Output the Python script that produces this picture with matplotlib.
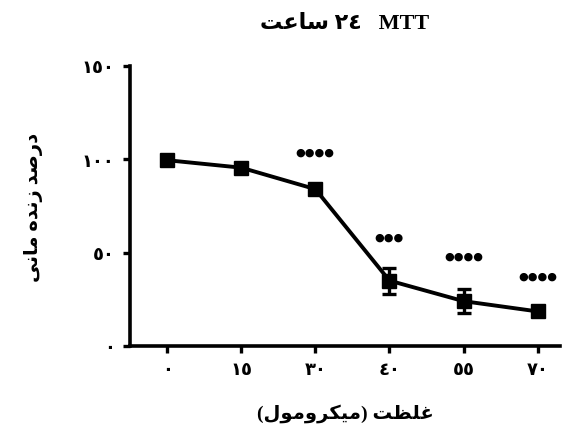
import matplotlib
matplotlib.use('Agg')
import matplotlib.pyplot as plt
import numpy as np

# concentrations (micromolar) as shown on the x axis, Arabic-Indic digits
conc_labels = ['٠', '١٥', '٣٠', '٤٠', '٥٥', '٧٠']
viability = [99.5, 95.5, 84, 35, 24, 18.5]
sem = [1.5, 1.5, 1.5, 7, 6.5, 1.5]
sig = ['', '', '●●●●', '●●●', '●●●●', '●●●●']
sig_y = [0, 0, 104, 58.5, 48.5, 37.5]

yticks = [0, 50, 100, 150]
ytick_labels = ['٠', '٥٠', '١٠٠', '١٥٠']

# Persian strings, pre-shaped and in visual order (matplotlib does no bidi)
title_txt = 'ﺖﻋﺎﺳ ٢٤   MTT'
ylabel_txt = 'ﻰﻧﺎﻣ ﻩﺪﻧﺯ ﺪﺻﺭﺩ'
xlabel_txt = '(ﻝﻮﻣﻭﺮﻜﻴﻣ) ﺖﻈﻠﻏ'

fam = ['Liberation Serif', 'DejaVu Sans']

fig = plt.figure(figsize=(5.71, 4.39), dpi=100)
ax = fig.add_axes([0.2277, 0.2096, 0.753, 0.638])

x = np.arange(len(conc_labels))
ax.errorbar(x, viability, yerr=sem, color='black', lw=2.8, marker='s',
            markersize=10, capsize=5, capthick=2.4, elinewidth=2.4)

for xi, s, yy in zip(x, sig, sig_y):
    if s:
        ax.text(xi, yy, s, ha='center', va='center', fontsize=8,
                family='DejaVu Sans')

ax.set_xlim(-0.5, 5.3)
ax.set_ylim(0, 150)
ax.set_xticks(x)
ax.set_xticklabels(conc_labels, family=fam, fontsize=13, fontweight='bold')
ax.set_yticks(yticks)
ax.set_yticklabels(ytick_labels, family=fam, fontsize=13, fontweight='bold')

for side in ['top', 'right']:
    ax.spines[side].set_visible(False)
for side in ['left', 'bottom']:
    ax.spines[side].set_linewidth(2.6)
ax.tick_params(axis='both', width=2.4, length=5, pad=6)

ax.set_title(title_txt, family=fam, fontsize=16, fontweight='bold', pad=27)
ax.set_xlabel(xlabel_txt, family=fam, fontsize=14, fontweight='bold', labelpad=18)
ax.set_ylabel(ylabel_txt, family=fam, fontsize=14, fontweight='bold', labelpad=28)

fig.savefig('out.png', dpi=100)
